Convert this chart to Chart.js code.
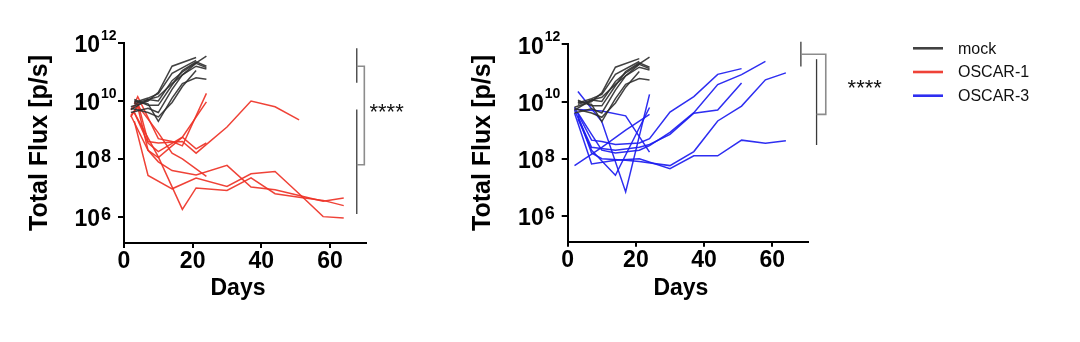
<!DOCTYPE html>
<html>
<head>
<meta charset="utf-8">
<script src="https://cdn.jsdelivr.net/npm/chart.js@4.4.1/dist/chart.umd.min.js"></script>
<style>
  html, body { margin: 0; padding: 0; background: #fff; }
  #wrap { position: relative; width: 1080px; height: 342px; }
  .panel { position: absolute; top: 0; height: 342px; }
</style>
</head>
<body>
<div id="wrap">
  <div class="panel" style="left:0;width:440px"><canvas id="fluxOscar1"></canvas></div>
  <div class="panel" style="left:440px;width:640px"><canvas id="fluxOscar3"></canvas></div>
</div>
<script>
// imaging days after injection
var days = [2, 3, 4, 7, 10, 14, 17, 21, 24, 30, 37, 44, 51, 58, 64];
var _ = null;

// log10 total flux [p/s], one row per animal, aligned with days
var mock = [
  [9.8, _, _, 10.0, 10.3, 11.2, _, 11.5],
  [9.7, _, _, 10.05, 10.0, 10.7, 11.0, _, 11.55],
  [_, 9.9, _, 10.05, 10.15, 10.6, 10.9, 11.3, 11.15],
  [_, 10.0, _, 9.9, 9.3, 10.1, 10.6, 10.8, 10.75],
  [9.6, _, _, 9.75, 9.6, 10.4, 10.9, 11.2, 11.1],
  [_, 9.95, _, 10.1, 10.25, 10.95, _, 11.4],
  [9.75, _, _, 9.6, 9.45, 9.95, 10.5, 11.05],
  [_, 10.05, _, 9.85, 9.85, 10.55, 11.05, 11.35, 11.2]
];

var oscar1 = [
  [9.7, _, 9.95, 8.6, 8.55, _, 8.6, 8.2, _, 9.1, 10.0, 9.8, 9.35],
  [_, 9.9, 10.15, _, 8.7, 8.6, 8.45, _, 10.26],
  [9.5, _, 9.8, 8.3, 8.05, 8.45, 8.75, _, 9.97],
  [_, 9.6, _, 8.55, 8.25, _, 8.75, 8.35, 8.55],
  [9.45, _, 9.85, _, 8.9, 8.2, 8.0, _, 7.4],
  [9.5, _, _, 8.3, 7.9, 7.6, _, 7.45, _, 7.78, 7.03, 6.94, 6.74, 6.54, 6.65],
  [_, 9.3, _, 7.43, _, 6.97, _, 7.34, _, 7.05, 7.49, 7.57, 6.8, 6.01, 5.96],
  [_, 9.6, _, _, 8.07, _, 6.26, 7.0, _, 6.91, 7.35, 6.8, 6.68, 6.57, 6.39]
];

var oscar3 = [
  [9.8, _, _, 8.65, 8.6, 8.5, _, 8.55, 8.7, 9.63, 10.17, 10.95, 11.15],
  [_, 9.6, _, 8.85, 8.3, 8.2, _, 8.3, 8.46, 8.92, 9.61, 10.59, 10.94, 11.4],
  [9.7, _, _, 8.4, _, 8.3, _, 8.4, 8.5, 8.85, 9.59, 9.7, 10.65],
  [_, 9.5, _, 8.2, 8.0, _, 7.95, 7.9, _, 7.76, 8.25, 9.32, 9.84, 10.76, 11.0],
  [9.6, _, _, 7.82, _, 7.95, _, 8.0, _, 7.65, 8.1, 8.1, 8.65, 8.54, 8.63],
  [_, 10.35, _, _, 9.3, _, 6.84, _, 10.25],
  [7.76, _, _, _, 8.4, _, 9.0, _, 9.55],
  [9.73, _, _, _, 9.67, _, 9.5, _, 8.23],
  [_, 9.4, _, 8.3, _, 7.42, _, _, 9.79]
];

var yTicks = [6, 8, 10, 12];
var xTicks = [0, 20, 40, 60];
var groupNames = ['mock', 'OSCAR-1', 'OSCAR-3'];
var groupColors = ['rgba(45,45,45,0.9)', 'rgba(238,50,38,0.92)', 'rgba(28,28,240,0.92)'];

var FONT = '"Liberation Sans", Arial, sans-serif';

function toPoints(row) {
  var pts = [];
  for (var i = 0; i < row.length; i++) {
    if (row[i] !== null) pts.push({ x: days[i], y: row[i] });
  }
  return pts;
}

function lineSets(rows, color) {
  return rows.map(function (row) {
    return {
      data: toPoints(row),
      borderColor: color,
      borderWidth: 1.5,
      pointRadius: 0,
      tension: 0,
      fill: false
    };
  });
}

// "10" with a raised exponent next to each y tick, and the x title
var axisText = {
  id: 'axisText',
  afterDraw: function (chart) {
    var ctx = chart.ctx, ys = chart.scales.y, xs = chart.scales.x;
    var right = chart.chartArea.left - 24;
    ctx.save();
    ctx.fillStyle = '#000';
    ctx.textBaseline = 'middle';
    yTicks.forEach(function (p) {
      var py = ys.getPixelForValue(p);
      var big = p >= 10;
      ctx.font = 'bold 23px ' + FONT;
      ctx.textAlign = 'right';
      ctx.fillText('10', right, py + 3);
      ctx.font = 'bold ' + (big ? 14 : 18) + 'px ' + FONT;
      ctx.textAlign = 'left';
      ctx.fillText(String(p), right + 1, py + (big ? -7 : -2));
    });
    ctx.font = 'bold 23px ' + FONT;
    ctx.textAlign = 'center';
    ctx.fillText('Days', xs.getPixelForValue(33.2), 289);
    ctx.restore();
  }
};

// group range bars, bracket and significance stars
var sigBracket = {
  id: 'sigBracket',
  afterDraw: function (chart) {
    var b = chart.options.plugins.sigBracket;
    if (!b) return;
    var ctx = chart.ctx, xs = chart.scales.x, ys = chart.scales.y;
    var X = function (d) { return xs.getPixelForValue(d); };
    var Y = function (v) { return ys.getPixelForValue(v); };
    ctx.save();
    ctx.lineWidth = 1.3;
    ctx.strokeStyle = '#3a3a3a';
    b.bars.forEach(function (bar) {
      ctx.beginPath();
      ctx.moveTo(X(bar.x), Y(bar.from));
      ctx.lineTo(X(bar.x), Y(bar.to));
      ctx.stroke();
    });
    ctx.strokeStyle = '#8c8c8c';
    ctx.lineWidth = 1.6;
    ctx.beginPath();
    ctx.moveTo(X(b.bars[0].x), Y(b.joinA));
    ctx.lineTo(X(b.edge), Y(b.joinA));
    ctx.lineTo(X(b.edge), Y(b.joinB));
    ctx.lineTo(X(b.bars[1].x), Y(b.joinB));
    ctx.stroke();
    ctx.fillStyle = '#111';
    ctx.font = '22px ' + FONT;
    ctx.textAlign = 'left';
    ctx.textBaseline = 'middle';
    ctx.fillText('****', X(b.star[0]), Y(b.star[1]) + 2);
    ctx.restore();
  }
};

var groupLegend = {
  id: 'groupLegend',
  afterDraw: function (chart) {
    var lg = chart.options.plugins.groupLegend;
    if (!lg) return;
    var ctx = chart.ctx;
    ctx.save();
    ctx.font = '16px ' + FONT;
    ctx.textBaseline = 'middle';
    ctx.textAlign = 'left';
    lg.items.forEach(function (it, i) {
      var y = lg.y + i * 23.7;
      ctx.strokeStyle = groupColors[it];
      ctx.lineWidth = 2.6;
      ctx.beginPath();
      ctx.moveTo(lg.x, y);
      ctx.lineTo(lg.x + 30, y);
      ctx.stroke();
      ctx.fillStyle = '#111';
      ctx.fillText(groupNames[it], lg.x + 45, y + 1);
    });
    ctx.restore();
  }
};

function fluxChart(id, treated, color, box, extra) {
  var sets = lineSets(mock, groupColors[0]).concat(lineSets(treated, color));
  return new Chart(document.getElementById(id), {
    type: 'line',
    data: { datasets: sets },
    plugins: [axisText, sigBracket, groupLegend],
    options: {
      responsive: true,
      maintainAspectRatio: false,
      animation: false,
      layout: { padding: { left: 0, top: box.top, right: box.right, bottom: 0 } },
      plugins: {
        legend: { display: false },
        tooltip: { enabled: false },
        sigBracket: extra.bracket,
        groupLegend: extra.legend
      },
      scales: {
        x: {
          type: 'linear',
          min: 0,
          max: 70.4,
          afterBuildTicks: function (s) { s.ticks = xTicks.map(function (v) { return { value: v }; }); },
          afterFit: function (s) { s.height = box.xh; },
          border: { color: '#000', width: 2 },
          grid: { display: true, drawOnChartArea: false, drawTicks: true, tickLength: 5, color: '#000', lineWidth: 2 },
          ticks: { color: '#000', padding: 0, maxRotation: 0, font: { family: FONT, size: 23, weight: 'bold' } }
        },
        y: {
          type: 'linear',
          min: 5.1,
          max: 12,
          afterBuildTicks: function (s) { s.ticks = yTicks.map(function (v) { return { value: v }; }); },
          afterFit: function (s) { s.width = box.yw; },
          border: { color: '#000', width: 2 },
          grid: { display: true, drawOnChartArea: false, drawTicks: true, tickLength: 6, color: '#000', lineWidth: 2 },
          ticks: { callback: function () { return ''; } },
          title: { display: true, text: 'Total Flux [p/s]', color: '#000', padding: { top: box.tp, bottom: 0 }, font: { family: FONT, size: 25, weight: 'bold' } }
        }
      }
    }
  });
}

fluxChart('fluxOscar1', oscar1, groupColors[1],
  { top: 43, right: 74.3, xh: 99, yw: 124, tp: 25 },
  {
    bracket: {
      bars: [{ x: 67.8, from: 11.82, to: 10.63 }, { x: 67.8, from: 9.71, to: 6.1 }],
      edge: 70,
      joinA: 11.2, joinB: 7.8,
      star: [71.5, 9.65]
    },
    legend: null
  });

fluxChart('fluxOscar3', oscar3, groupColors[2],
  { top: 44.3, right: 272.3, xh: 100.3, yw: 127.7, tp: 27.7 },
  {
    bracket: {
      bars: [{ x: 68.4, from: 12.09, to: 11.22 }, { x: 73, from: 11.48, to: 8.48 }],
      edge: 75.7,
      joinA: 11.65, joinB: 9.55,
      star: [82.1, 10.5]
    },
    legend: { x: 473, y: 48.3, items: [0, 1, 2] }
  });
</script>
</body>
</html>
